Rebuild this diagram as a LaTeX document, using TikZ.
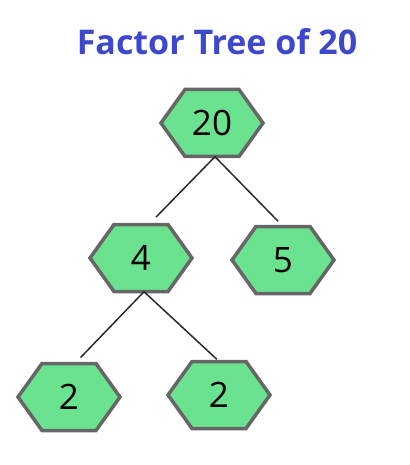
\documentclass[tikz,border=0pt]{standalone}
\usepackage{fontspec}
\setmainfont{Open Sans}
\definecolor{hexfill}{HTML}{6BE28F}
\definecolor{hexedge}{HTML}{666666}
\definecolor{titleblue}{HTML}{3E48CC}
\definecolor{linegray}{HTML}{2A2A2A}
\tikzset{
  hexbox/.style={minimum width=102pt, minimum height=67pt, inner sep=0pt, font=\fontsize{35}{35}\selectfont, text=black},
  hexline/.style={draw=hexedge, fill=hexfill, line width=3.5pt, line join=miter},
  branch/.style={draw=linegray, line width=1.5pt},
  titletext/.style={font=\fontsize{34}{34}\selectfont\bfseries, text=titleblue}
}
\newcommand\hexat[3]{%
  \draw[hexline, shift={(#2)}] (-51,0) -- (-27,-33.5) -- (27,-33.5) -- (51,0) -- (27,33.5) -- (-27,33.5) -- cycle;
  \node[hexbox] (#1) at (#2) {#3};}
\begin{document}
\begin{tikzpicture}[x=1pt,y=-1pt]
\useasboundingbox (0,0) rectangle (409,465);
\node[titletext] (title) at (217,42) {Factor Tree of 20};
\hexat{n20}{212,123}{20}
\hexat{n4}{141,258}{4}
\hexat{n5}{283,260}{5}
\hexat{n2a}{69,397}{2}
\hexat{n2b}{219,395}{2}
\draw[branch, shorten >=10pt] ([xshift=3pt]n20.south) -- ([xshift=8pt]n4.north);
\draw[branch, shorten >=7pt] ([xshift=3pt]n20.south) -- (n5.north);
\draw[branch, shorten >=8pt] ([xshift=3pt]n4.south) -- ([xshift=6pt]n2a.north);
\draw[branch, shorten >=3pt] ([xshift=3pt]n4.south) -- (n2b.north);
\end{tikzpicture}
\end{document}
